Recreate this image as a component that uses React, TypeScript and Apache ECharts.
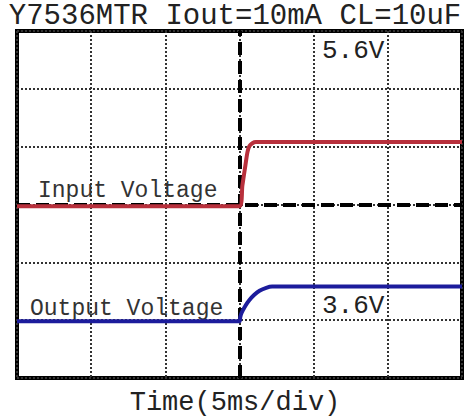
import React, { useEffect, useRef } from "react";
import * as echarts from "echarts";

// time in ms (5 ms per division), value in screen divisions
const inputTime = [-15, 0, 0.2, 0.4, 0.54, 0.67, 0.87, 1.1, 15];
const inputValue = [-0.03, -0.03, 0.34, 0.68, 0.91, 1.01, 1.06, 1.08, 1.08];
const outputTime = [-15, 0, 0.05, 0.13, 0.4, 0.67, 1.0, 1.35, 1.8, 2.2, 15];
const outputValue = [-2.02, -2.02, -1.95, -1.88, -1.75, -1.65, -1.56, -1.49, -1.44, -1.42, -1.42];

const xTicks = [-15, -10, -5, 0, 5, 10, 15];
const yTicks = [-3, -2, -1, 0, 1, 2, 3];

const titleText = "Y7536MTR Iout=10mA CL=10uF";
const xName = "Time(5ms/div)";
const inputLabel = "Input Voltage";
const outputLabel = "Output Voltage";
const inputLevel = "5.6V";
const outputLevel = "3.6V";

const FONT = "Liberation Mono";

export default function App() {
  const ref = useRef<HTMLDivElement>(null);
  useEffect(() => {
    if (!ref.current) return;
    const chart = echarts.init(ref.current, null, { renderer: "svg" });
    const inputData = inputTime.map((t, i) => [t, inputValue[i]]);
    const outputData = outputTime.map((t, i) => [t, outputValue[i]]);
    chart.setOption({
      animation: false,
      backgroundColor: "#ffffff",
      title: [
        {
          text: titleText,
          left: "center",
          top: -3,
          textStyle: { fontFamily: FONT, fontSize: 29, fontWeight: "normal", color: "#222" },
        },
        {
          text: xName,
          left: "center",
          top: 384,
          textStyle: { fontFamily: FONT, fontSize: 27, fontWeight: "normal", color: "#222" },
        },
      ],
      grid: {
        left: 17,
        right: 8,
        top: 31,
        bottom: 39,
        outerBoundsMode: "none",
        containLabel: false,
        show: true,
        borderColor: "#000",
        borderWidth: 4,
        backgroundColor: "transparent",
      },
      xAxis: {
        type: "value",
        min: xTicks[0],
        max: xTicks[xTicks.length - 1],
        interval: 5,
        axisLine: { show: false },
        axisTick: { show: false },
        axisLabel: { show: false },
        splitLine: { show: true, lineStyle: { color: "#333", width: 2, type: [2, 2] } },
      },
      yAxis: {
        type: "value",
        min: yTicks[0],
        max: yTicks[yTicks.length - 1],
        interval: 1,
        axisLine: { show: false },
        axisTick: { show: false },
        axisLabel: { show: false },
        splitLine: { show: true, lineStyle: { color: "#333", width: 2, type: [2, 2] } },
      },
      series: [
        {
          type: "line",
          data: [],
          silent: true,
          z: 1,
          markLine: {
            silent: true,
            z: 1,
            symbol: "none",
            label: { show: false },
            lineStyle: { color: "#000", width: 4, type: [13, 6] },
            data: [{ xAxis: 0 }, { yAxis: 0 }],
          },
        },
        {
          type: "line",
          data: inputData,
          showSymbol: false,
          smooth: 0.3,
          lineStyle: { color: "#b8303c", width: 4 },
          z: 10,
        },
        {
          type: "line",
          data: outputData,
          showSymbol: false,
          smooth: 0.3,
          lineStyle: { color: "#1c1c9c", width: 4 },
          z: 10,
        },
      ],
      graphic: [
        {
          type: "text",
          left: 38,
          top: 179,
          style: { text: inputLabel, fontFamily: FONT, fontSize: 23, fill: "#333" },
        },
        {
          type: "text",
          left: 30,
          top: 297,
          style: { text: outputLabel, fontFamily: FONT, fontSize: 23, fill: "#333" },
        },
        {
          type: "text",
          left: 322,
          top: 38,
          style: { text: inputLevel, fontFamily: FONT, fontSize: 26, fill: "#222" },
        },
        {
          type: "text",
          left: 322,
          top: 293,
          style: { text: outputLevel, fontFamily: FONT, fontSize: 26, fill: "#222" },
        },
      ],
    });
    return () => chart.dispose();
  }, []);
  return <div ref={ref} style={{ width: 470, height: 417, position: "absolute", left: 0, top: 0 }} />;
}
